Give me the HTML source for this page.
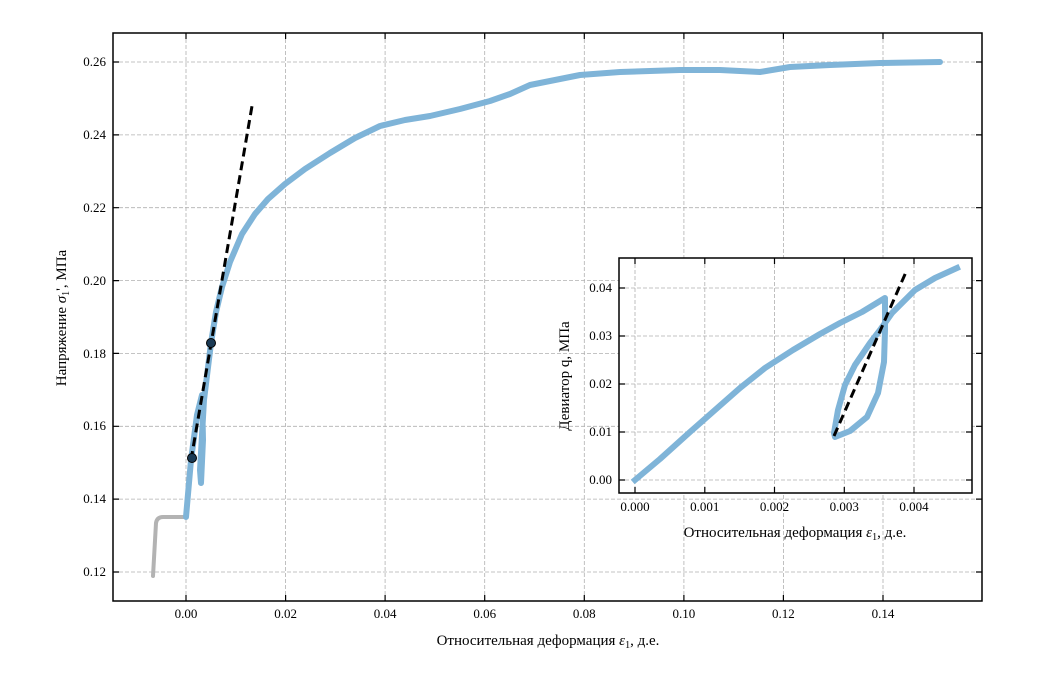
<!DOCTYPE html>
<html><head><meta charset="utf-8"><style>body{margin:0;background:#fff}</style></head><body>
<svg width="1054" height="669" xmlns="http://www.w3.org/2000/svg" font-family="Liberation Serif, serif" font-size="13">
<rect width="1054" height="669" fill="#fff"/>
<g stroke="#b0b0b0" stroke-width="0.8" stroke-dasharray="4,2">
<line x1="186" y1="33" x2="186" y2="601"/><line x1="285.6" y1="33" x2="285.6" y2="601"/><line x1="385.1" y1="33" x2="385.1" y2="601"/><line x1="484.7" y1="33" x2="484.7" y2="601"/><line x1="584.3" y1="33" x2="584.3" y2="601"/><line x1="683.9" y1="33" x2="683.9" y2="601"/><line x1="783.4" y1="33" x2="783.4" y2="601"/><line x1="883" y1="33" x2="883" y2="601"/>
<line x1="113" y1="62" x2="982" y2="62"/><line x1="113" y1="134.9" x2="982" y2="134.9"/><line x1="113" y1="207.7" x2="982" y2="207.7"/><line x1="113" y1="280.6" x2="982" y2="280.6"/><line x1="113" y1="353.4" x2="982" y2="353.4"/><line x1="113" y1="426.3" x2="982" y2="426.3"/><line x1="113" y1="499.1" x2="982" y2="499.1"/><line x1="113" y1="572" x2="982" y2="572"/>
</g>
<path d="M153,576 L156,523 Q157,517 163,517 L186,517" fill="none" stroke="#b3b3b3" stroke-width="4" stroke-linecap="round"/>
<path d="M186,517 L191,460 L197,415 L202,395 L203,440 L201,483 L200,470 L204,400 L211,343 L216,312 L222,287 L230,262 L242,234 L255,214 L268,199 L285,184 L305,169 L330,153 L355,138 L380,126 L405,120 L430,116 L460,109 L490,101 L510,94 L530,85 L555,80 L580,75 L620,72 L680,70 L720,70 L760,72 L790,67 L830,65 L880,63 L940,62" fill="none" stroke="#7fb4d8" stroke-width="6" stroke-linejoin="round" stroke-linecap="round"/>
<line x1="191" y1="460" x2="252" y2="106" stroke="#000" stroke-width="3" stroke-dasharray="9,5"/>
<circle cx="192" cy="458" r="4.5" fill="#1a3a55" stroke="#000"/><circle cx="211" cy="343" r="4.5" fill="#1a3a55" stroke="#000"/>
<rect x="113" y="33" width="869" height="568" fill="none" stroke="#000" stroke-width="1.5"/>
<g stroke="#000" stroke-width="1.2">
<path d="M186,601v-6M285.6,601v-6M385.1,601v-6M484.7,601v-6M584.3,601v-6M683.9,601v-6M783.4,601v-6M883,601v-6M186,33v6M285.6,33v6M385.1,33v6M484.7,33v6M584.3,33v6M683.9,33v6M783.4,33v6M883,33v6"/>
<path d="M113,62h6M113,134.9h6M113,207.7h6M113,280.6h6M113,353.4h6M113,426.3h6M113,499.1h6M113,572h6M982,62h-6M982,134.9h-6M982,207.7h-6M982,280.6h-6M982,353.4h-6M982,426.3h-6M982,499.1h-6M982,572h-6"/>
</g>
<g text-anchor="middle"><text x="186" y="618">0.00</text><text x="285.6" y="618">0.02</text><text x="385.1" y="618">0.04</text><text x="484.7" y="618">0.06</text><text x="584.3" y="618">0.08</text><text x="683.9" y="618">0.10</text><text x="783.4" y="618">0.12</text><text x="883" y="618">0.14</text></g>
<g text-anchor="end"><text x="106" y="66">0.26</text><text x="106" y="139">0.24</text><text x="106" y="212">0.22</text><text x="106" y="285">0.20</text><text x="106" y="358">0.18</text><text x="106" y="430">0.16</text><text x="106" y="503">0.14</text><text x="106" y="576">0.12</text></g>
<text x="548" y="645" text-anchor="middle" font-size="15">Относительная деформация <tspan font-style="italic">ε</tspan><tspan font-size="10" dy="3">1</tspan><tspan dy="-3">, д.е.</tspan></text>
<text transform="translate(66,318) rotate(-90)" text-anchor="middle" font-size="15">Напряжение <tspan font-style="italic">σ</tspan><tspan font-size="10" dy="3">1</tspan><tspan dy="-3">', МПа</tspan></text>
<rect x="619" y="258" width="353" height="235" fill="#fff"/>
<g stroke="#b0b0b0" stroke-width="0.8" stroke-dasharray="4,2">
<line x1="635" y1="258" x2="635" y2="493"/><line x1="704.8" y1="258" x2="704.8" y2="493"/><line x1="774.5" y1="258" x2="774.5" y2="493"/><line x1="844.3" y1="258" x2="844.3" y2="493"/><line x1="914" y1="258" x2="914" y2="493"/>
<line x1="619" y1="480" x2="972" y2="480"/><line x1="619" y1="432" x2="972" y2="432"/><line x1="619" y1="384" x2="972" y2="384"/><line x1="619" y1="336" x2="972" y2="336"/><line x1="619" y1="288" x2="972" y2="288"/>
</g>
<path d="M635,480 L660,459 L690,432 L715,410 L740,388 L765,368 L793,350 L820,334 L840,323 L862,312 L885,298 L885,330 L884,362 L878,393 L867,417 L850,431 L835,437 L834,433 L838,410 L845,385 L855,365 L870,343 L880,330 L892,313 L905,300 L915,290 L935,278 L957,268" fill="none" stroke="#7fb4d8" stroke-width="6" stroke-linejoin="round" stroke-linecap="square"/>
<line x1="834" y1="436" x2="906" y2="272" stroke="#000" stroke-width="3" stroke-dasharray="9,5"/>
<rect x="619" y="258" width="353" height="235" fill="none" stroke="#000" stroke-width="1.5"/>
<g stroke="#000" stroke-width="1.2">
<path d="M635,493v-6M704.8,493v-6M774.5,493v-6M844.3,493v-6M914,493v-6M635,258v6M704.8,258v6M774.5,258v6M844.3,258v6M914,258v6"/>
<path d="M619,480h6M619,432h6M619,384h6M619,336h6M619,288h6M972,480h-6M972,432h-6M972,384h-6M972,336h-6M972,288h-6"/>
</g>
<g text-anchor="middle"><text x="635" y="511">0.000</text><text x="704.8" y="511">0.001</text><text x="774.5" y="511">0.002</text><text x="844.3" y="511">0.003</text><text x="914" y="511">0.004</text></g>
<g text-anchor="end"><text x="612" y="484">0.00</text><text x="612" y="436">0.01</text><text x="612" y="388">0.02</text><text x="612" y="340">0.03</text><text x="612" y="292">0.04</text></g>
<text x="795" y="537" text-anchor="middle" font-size="15">Относительная деформация <tspan font-style="italic">ε</tspan><tspan font-size="10" dy="3">1</tspan><tspan dy="-3">, д.е.</tspan></text>
<text transform="translate(569,376) rotate(-90)" text-anchor="middle" font-size="15">Девиатор q, МПа</text>
</svg>
</body></html>
